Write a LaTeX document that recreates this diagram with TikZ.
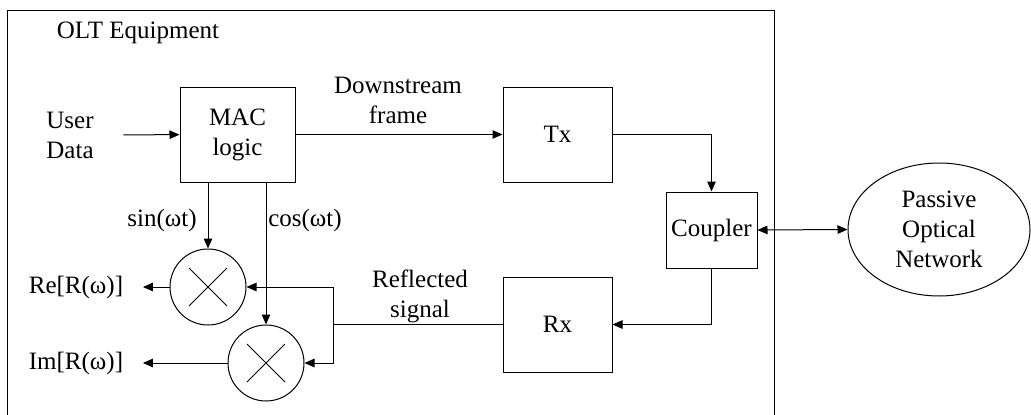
\documentclass[tikz,border=0pt]{standalone}
\usepackage{fontspec}
\setmainfont{Liberation Serif}
\usepackage{tikz}
\usetikzlibrary{calc}
\usetikzlibrary{shapes.geometric}
\usetikzlibrary{arrows.meta,positioning}

\begin{document}
\begin{tikzpicture}[x=1pt,y=-1pt,line width=1pt,
        every node/.style={font=\fontsize{25}{30}\selectfont, align=center},
        box/.style={draw, inner sep=0pt, minimum width=109pt, minimum height=95pt},
        mixer/.style={draw, circle, inner sep=0pt, minimum size=76pt,
            path picture={
                \draw ($(path picture bounding box.center)+(-19pt,-19pt)$) -- ++(38pt,38pt);
                \draw ($(path picture bounding box.center)+(-19pt,19pt)$) -- ++(38pt,-38pt);
            }},
        tip/.tip={Triangle[length=10pt,width=8.5pt]},
        arr/.style={-tip}]
        \useasboundingbox (0,0) rectangle (1031,415);
        % equipment frame (open at the bottom)
        \draw (7,425) |- (774,10) -- (774,425);
        \node (olt) at (138,33) {OLT Equipment};
        % blocks
        \node (udata) at (70,135) {User\\Data};
        \node[box, minimum width=115pt] (mac) at (237.5,134.5) {MAC\\logic};
        \node[box] (tx) at (557.5,134.5) {Tx};
        \node[box, minimum width=91pt, minimum height=76pt] (coupler) at (711.5,230) {Coupler};
        \node[box] (rx) at (557.5,324.5) {Rx};
        \node[draw, ellipse, inner sep=0pt, minimum width=182pt, minimum height=133pt] (pon) at (939,229.5) {Passive\\Optical\\Network};
        \node[mixer] (mixa) at (208,287) {};
        \node[mixer] (mixb) at (266,363) {};
        \node (re) at (76,287) {Re[R(ω)]};
        \node (im) at (76,363) {Im[R(ω)]};
        % labels
        \node (down) at (398,100) {Downstream\\frame};
        \node (refl) at (420,296) {Reflected\\signal};
        \node (sinl) at (162,220) {sin(ωt)};
        \node (cosl) at (305,220) {cos(ωt)};
        \coordinate (split) at (333,324.5);
        % connectors
        \draw[arr, shorten <=26pt] (udata) -- (mac);
        \draw[arr] (mac.east) -- (tx.west);
        \draw[arr] (tx.east) -| (coupler.north);
        \draw[arr] (coupler.south) |- (rx.east);
        \draw[tip-tip] (coupler.east) -- (pon.west);
        \draw[arr] (mixa.north |- mac.south) -- (mixa.north);
        \draw[arr] (mixb.north |- mac.south) -- (mixb.north);
        \draw (rx.west) -- (split);
        \draw[arr] (split) |- (mixa.east);
        \draw[arr] (split) |- (mixb.east);
        \draw[arr, shorten >=16pt] (mixa.west) -- (re);
        \draw[arr, shorten >=16pt] (mixb.west) -- (im);
    \end{tikzpicture}
\end{document}
